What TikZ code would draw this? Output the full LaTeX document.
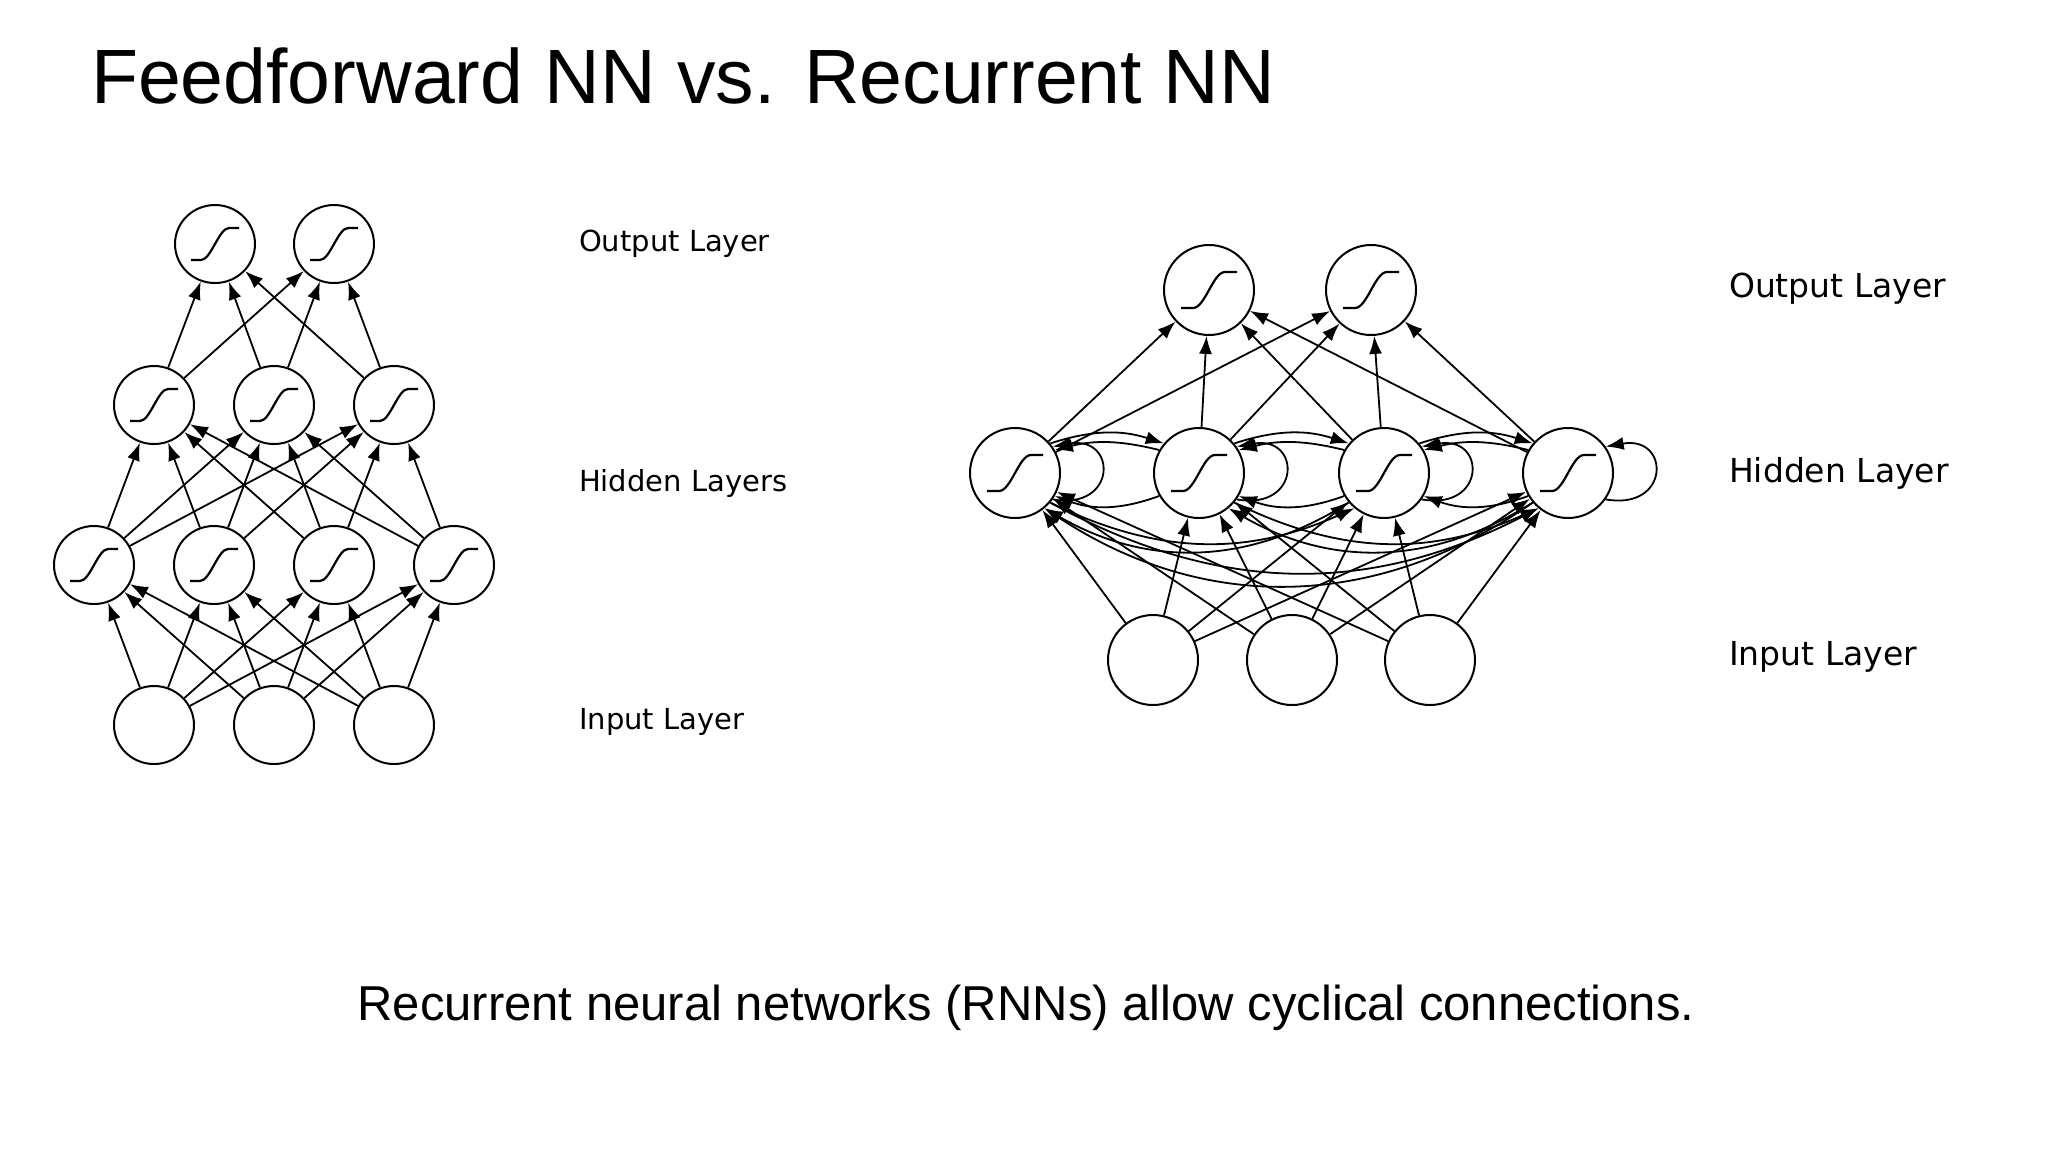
\documentclass[tikz,border=0pt]{standalone}
\usepackage{fontspec}
\setmainfont{Liberation Sans}
\newfontfamily\lblfont{DejaVu Sans}
\usetikzlibrary{arrows.meta,shapes.geometric}
\begin{document}
\begin{tikzpicture}[x=0.5pt,y=-0.5pt,
  neur/.style={draw,line width=1pt,ellipse,minimum width=40pt,minimum height=39pt,inner sep=0pt,fill=white},
  sig/.style={neur,path picture={
     \draw[line width=1.1pt] ([xshift=-12pt,yshift=-8pt]path picture bounding box.center) -- ++(5pt,0)
       .. controls +(5pt,0) and +(-5pt,0) .. ++(14pt,16pt) -- ++(5pt,0);}},
  rneur/.style={neur,minimum width=45pt,minimum height=45pt},
  rsig/.style={rneur,path picture={
     \draw[line width=1.1pt] ([xshift=-14pt,yshift=-9pt]path picture bounding box.center) -- ++(6pt,0)
       .. controls +(6pt,0) and +(-6pt,0) .. ++(16pt,18pt) -- ++(6pt,0);}},
  con/.style={line width=0.9pt,-{Latex[length=9pt,width=6.5pt]}},
  lbl/.style={font=\lblfont\fontsize{14.5pt}{17pt}\selectfont,anchor=west},
  rlbl/.style={font=\lblfont\fontsize{16.5pt}{19pt}\selectfont,anchor=west}]
\useasboundingbox (0,0) rectangle (2048,1152);
\node[anchor=west,font=\fontsize{38.5pt}{44pt}\selectfont] (title) at (84,76) {Feedforward NN vs. Recurrent NN};
\node[font=\fontsize{24.5pt}{29pt}\selectfont] (cap) at (1026,1008) {Recurrent neural networks (RNNs) allow cyclical connections.};
% Feedforward
\foreach \i/\x in {1/215,2/334} \node[sig] (fo\i) at (\x,244) {};
\foreach \i/\x in {1/154,2/274,3/394} \node[sig] (fa\i) at (\x,405) {};
\foreach \i/\x in {1/94,2/214,3/334,4/454} \node[sig] (fb\i) at (\x,565) {};
\foreach \i/\x in {1/154,2/274,3/394} \node[neur] (fi\i) at (\x,725) {};
\foreach \a in {1,2,3}{\foreach \b in {1,2,3,4}{\draw[con] (fi\a) -- (fb\b);}}
\foreach \a in {1,2,3,4}{\foreach \b in {1,2,3}{\draw[con] (fb\a) -- (fa\b);}}
\foreach \a in {1,2,3}{\foreach \b in {1,2}{\draw[con] (fa\a) -- (fo\b);}}
\node[lbl] (l1) at (572,244) {Output Layer};
\node[lbl] (l2) at (572,483) {Hidden Layers};
\node[lbl] (l3) at (572,722) {Input Layer};
% Recurrent
\foreach \i/\x in {1/1209,2/1371} \node[rsig] (ro\i) at (\x,290) {};
\foreach \i/\x in {1/1015,2/1199,3/1384,4/1568} \node[rsig] (rh\i) at (\x,473) {};
\foreach \i/\x in {1/1153,2/1292,3/1430} \node[rneur] (ri\i) at (\x,660) {};
\foreach \a in {1,2,3,4}{\foreach \b in {1,2}{\draw[con] (rh\a) -- (ro\b);}}
\foreach \a in {1,2,3}{\foreach \b in {1,2,3,4}{\draw[con] (ri\a) -- (rh\b);}}
% self loops
\foreach \a in {1,2,3,4}{\draw[con] (rh\a.-35) to[out=-10,in=10,looseness=3.2] (rh\a.35);}
% adjacent recurrent arcs (above)
\foreach \a/\b in {1/2,2/3,3/4}{
  \draw[con] (rh\a.40) to[bend left=18] (rh\b.140);
  \draw[con] (rh\b.150) to[bend right=14] (rh\a.30);}
% non-adjacent arcs (below)
\foreach \a/\b/\bb in {1/3/25,1/4/28,2/4/25}{
  \draw[con] (rh\a.-40) to[bend right=\bb] (rh\b.-130);
  \draw[con] (rh\b.-140) to[bend left=\bb+6] (rh\a.-50);}
\foreach \a/\b in {1/2,2/3,3/4}{
  \draw[con] (rh\b.-150) to[bend left=20] (rh\a.-30);}
\node[rlbl] (r1) at (1722,289) {Output Layer};
\node[rlbl] (r2) at (1722,473) {Hidden Layer};
\node[rlbl] (r3) at (1722,657) {Input Layer};
\end{tikzpicture}
\end{document}
